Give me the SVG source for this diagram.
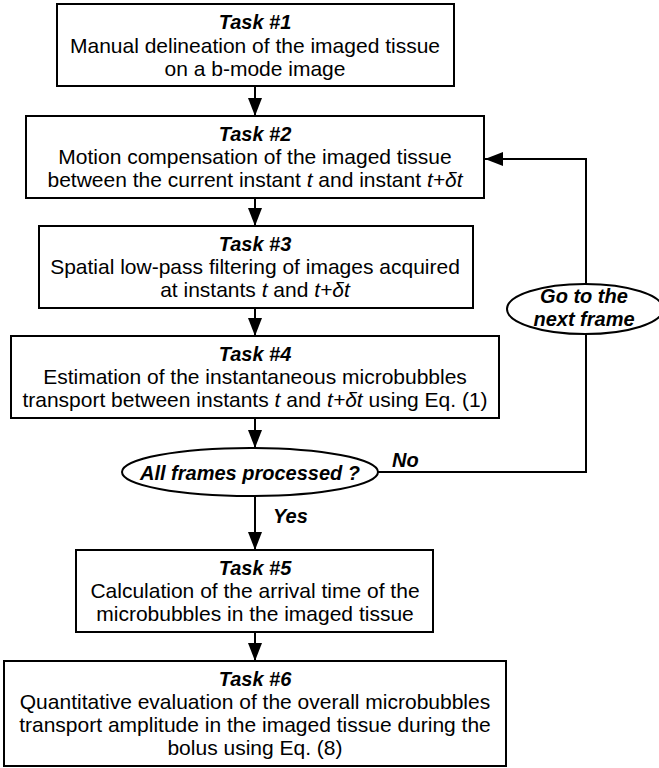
<svg xmlns="http://www.w3.org/2000/svg" width="659" height="768" viewBox="0 0 659 768">
<style>
.box{fill:#fff;stroke:#000;stroke-width:2}
.t{font-family:"Liberation Sans",Arial,sans-serif;font-size:21px;fill:#000;text-anchor:middle}
.h{font-weight:bold;font-style:italic;font-size:20px}
.i{font-style:italic}
.c{fill:none;stroke:#000;stroke-width:2}
</style>
<defs>
<marker id="ah" markerUnits="userSpaceOnUse" markerWidth="18" markerHeight="14" refX="18" refY="7" orient="auto">
<path d="M0,0 L18,7 L0,14 Z" fill="#000"/>
</marker>
</defs>
<g id="connectors">
<line class="c" x1="255" y1="87" x2="255" y2="116" marker-end="url(#ah)"/>
<line class="c" x1="255" y1="199" x2="255" y2="226" marker-end="url(#ah)"/>
<line class="c" x1="255" y1="309" x2="255" y2="336" marker-end="url(#ah)"/>
<line class="c" x1="255" y1="419" x2="255" y2="448" marker-end="url(#ah)"/>
<line class="c" x1="255" y1="496" x2="255" y2="550" marker-end="url(#ah)"/>
<line class="c" x1="255" y1="633" x2="255" y2="661" marker-end="url(#ah)"/>
<polyline class="c" points="378,472 586,472 586,159 485,159" marker-end="url(#ah)"/>
<text class="t h" x="392" y="467" style="text-anchor:start">No</text>
<text class="t h" x="273" y="523" style="text-anchor:start">Yes</text>
</g>
<g id="task1">
<rect class="box" x="57" y="4" width="397" height="82"/>
<text class="t h" x="255" y="29">Task #1</text>
<text class="t" x="255" y="53">Manual delineation of the imaged tissue</text>
<text class="t" x="255" y="76">on a b-mode image</text>
</g>
<g id="task2">
<rect class="box" x="26" y="116" width="458" height="82"/>
<text class="t h" x="255" y="141">Task #2</text>
<text class="t" x="255" y="164">Motion compensation of the imaged tissue</text>
<text class="t" x="255" y="187">between the current instant <tspan class="i">t</tspan> and instant <tspan class="i">t+δt</tspan></text>
</g>
<g id="task3">
<rect class="box" x="39" y="226" width="434" height="82"/>
<text class="t h" x="255" y="251">Task #3</text>
<text class="t" x="255" y="274">Spatial low-pass filtering of images acquired</text>
<text class="t" x="255" y="297">at instants <tspan class="i">t</tspan> and <tspan class="i">t+δt</tspan></text>
</g>
<g id="task4">
<rect class="box" x="11" y="336" width="488" height="82"/>
<text class="t h" x="255" y="361">Task #4</text>
<text class="t" x="255" y="384">Estimation of the instantaneous microbubbles</text>
<text class="t" x="255" y="407">transport between instants <tspan class="i">t</tspan> and <tspan class="i">t+δt</tspan> using Eq. (1)</text>
</g>
<g id="decision">
<ellipse class="box" cx="250" cy="472" rx="128" ry="24"/>
<text class="t h" x="250" y="480">All frames processed ?</text>
</g>
<g id="next">
<ellipse class="box" cx="585" cy="309" rx="78" ry="25"/>
<text class="t h" x="584" y="303">Go to the</text>
<text class="t h" x="584" y="326">next frame</text>
</g>
<g id="task5">
<rect class="box" x="76" y="550" width="357" height="82"/>
<text class="t h" x="255" y="575">Task #5</text>
<text class="t" x="255" y="598">Calculation of the arrival time of the</text>
<text class="t" x="255" y="621">microbubbles in the imaged tissue</text>
</g>
<g id="task6">
<rect class="box" x="4" y="661" width="502" height="105"/>
<text class="t h" x="255" y="686">Task #6</text>
<text class="t" x="255" y="709">Quantitative evaluation of the overall microbubbles</text>
<text class="t" x="255" y="732">transport amplitude in the imaged tissue during the</text>
<text class="t" x="255" y="755">bolus using Eq. (8)</text>
</g>
</svg>
